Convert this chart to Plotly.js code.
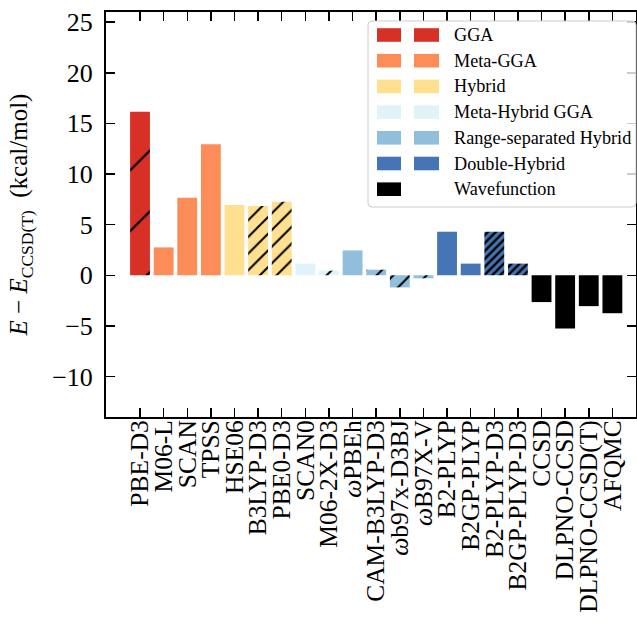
<!DOCTYPE html>
<html><head><meta charset="utf-8">
<script src="https://cdn.plot.ly/plotly-3.0.1.min.js"></script>
<style>html,body{margin:0;padding:0;background:#fff}</style>
</head><body>
<div id="chart" style="width:637px;height:623px"></div>
<script>
// ---- data ----
const methods = ['PBE-D3','M06-L','SCAN','TPSS','HSE06','B3LYP-D3','PBE0-D3','SCAN0','M06-2X-D3',
  '<i>ω</i>PBEh','CAM-B3LYP-D3','<i>ω</i>b97x-D3BJ','<i>ω</i>B97X-V','B2-PLYP','B2GP-PLYP',
  'B2-PLYP-D3','B2GP-PLYP-D3','CCSD','DLPNO-CCSD','DLPNO-CCSD(T)','AFQMC'];
const errors = [16.15, 2.75, 7.65, 12.95, 6.95, 6.85, 7.25, 1.15, 0.45,
  2.45, 0.55, -1.2, -0.3, 4.3, 1.15,
  4.3, 1.15, -2.65, -5.25, -3.05, -3.75];
const families = ['GGA','Meta-GGA','Meta-GGA','Meta-GGA','Hybrid','Hybrid','Hybrid',
  'Meta-Hybrid GGA','Meta-Hybrid GGA','Range-separated Hybrid','Range-separated Hybrid',
  'Range-separated Hybrid','Range-separated Hybrid','Double-Hybrid','Double-Hybrid',
  'Double-Hybrid','Double-Hybrid','Wavefunction','Wavefunction','Wavefunction','Wavefunction'];
const hatches = ['sparse','','','','','/','/','','/','','/','/','/','','','//','//','','','',''];
const familyNames = ['GGA','Meta-GGA','Hybrid','Meta-Hybrid GGA','Range-separated Hybrid','Double-Hybrid','Wavefunction'];
const familyColors = ['#d73027','#fc8d59','#fee090','#e0f3f8','#91bfdb','#4575b4','#000000'];
const legendSwatchCount = [2,2,2,2,2,2,1];

// ---- styles ----
const hatchStyle = {
  '': {shape:'', size:8, solidity:0.3},
  'sparse': {shape:'/', size:43, solidity:0.05},
  '/': {shape:'/', size:11.8, solidity:0.17},
  '//': {shape:'/', size:5.6, solidity:0.42}
};
const FONT = '"Liberation Serif", "Times New Roman", Times, serif';
const W = 637, H = 623, ML = 106, MR = 1, MT = 12, MB = 206;
const pw = W - ML - MR, ph = H - MT - MB;
const px = x => (x - ML) / pw;
const py = y => (H - MB - y) / ph;

const traces = familyNames.map((fam, k) => {
  const idx = families.map((f,i)=> f===fam ? i : -1).filter(i=>i>=0);
  return {
    type:'bar', name: fam, showlegend:false,
    x: idx.map(i=>methods[i]), y: idx.map(i=>errors[i]),
    width: 0.84,
    marker:{
      color: familyColors[k], line:{width:0},
      pattern:{
        shape: idx.map(i=>hatchStyle[hatches[i]].shape),
        size: idx.map(i=>hatchStyle[hatches[i]].size),
        solidity: idx.map(i=>hatchStyle[hatches[i]].solidity),
        fillmode:'overlay', fgcolor:'#000000', fgopacity:1, bgcolor: familyColors[k]
      }
    },
    hoverinfo:'x+y'
  };
});

// ---- manual legend ----
const shapes = [];
const annotations = [];
const bx0 = 368, bx1 = 636, by0 = 21, by1 = 207, r = 4;
shapes.push({type:'path', xref:'paper', yref:'paper', layer:'above',
  path: `M${px(bx0+r)},${py(by0)} L${px(bx1-r)},${py(by0)} Q${px(bx1)},${py(by0)} ${px(bx1)},${py(by0+r)} L${px(bx1)},${py(by1-r)} Q${px(bx1)},${py(by1)} ${px(bx1-r)},${py(by1)} L${px(bx0+r)},${py(by1)} Q${px(bx0)},${py(by1)} ${px(bx0)},${py(by1-r)} L${px(bx0)},${py(by0+r)} Q${px(bx0)},${py(by0)} ${px(bx0+r)},${py(by0)} Z`,
  fillcolor:'rgba(255,255,255,0.8)', line:{color:'#cccccc', width:1}});
familyNames.forEach((fam,k)=>{
  const yc = 35 + k*25.7;
  const sw = [[377,401],[414,439]].slice(0, legendSwatchCount[k]);
  sw.forEach(([a,b])=>{
    shapes.push({type:'rect', xref:'paper', yref:'paper', layer:'above',
      x0:px(a), x1:px(b), y0:py(yc-6.8), y1:py(yc+6.8),
      fillcolor: familyColors[k], line:{width:0}});
  });
  annotations.push({xref:'paper', yref:'paper', x:px(452), y:py(yc), xanchor:'left', yanchor:'middle',
    text: fam, showarrow:false, font:{family:FONT, size:18.2, color:'#000'}});
});

const layout = {
  width:W, height:H,
  margin:{l:ML, r:MR, t:MT, b:MB, pad:0},
  paper_bgcolor:'#fff', plot_bgcolor:'#fff',
  font:{family:FONT, color:'#000', size:24},
  barmode:'overlay',
  showlegend:false,
  xaxis:{
    type:'category', categoryorder:'array', categoryarray:methods,
    tickmode:'array', tickvals:methods, ticktext:methods,
    range:[-1.44, 21.0], showgrid:false, zeroline:false,
    showline:true, linecolor:'#000', linewidth:2, mirror:'allticks',
    ticks:'inside', ticklen:9, tickwidth:1.5, tickcolor:'#000', ticklabelstandoff:-9,
    tickangle:-90, tickfont:{family:FONT, size:25.5, color:'#000'}, automargin:false
  },
  yaxis:{
    range:[-14, 26], dtick:5, tick0:0, showgrid:false, zeroline:false,
    showline:true, linecolor:'#000', linewidth:2, mirror:'allticks',
    ticks:'inside', ticklen:9, tickwidth:1.5, tickcolor:'#000', ticklabelstandoff:6,
    tickfont:{family:FONT, size:26, color:'#000'}, automargin:false,
    title:{text:'<i>E</i> − <i>E</i><sub>CCSD(T)</sub>  (kcal/mol)', font:{family:FONT, size:25, color:'#000'}, standoff:17}
  },
  shapes, annotations
};
Plotly.newPlot('chart', traces, layout, {displayModeBar:false, staticPlot:true});
</script>
</body></html>
